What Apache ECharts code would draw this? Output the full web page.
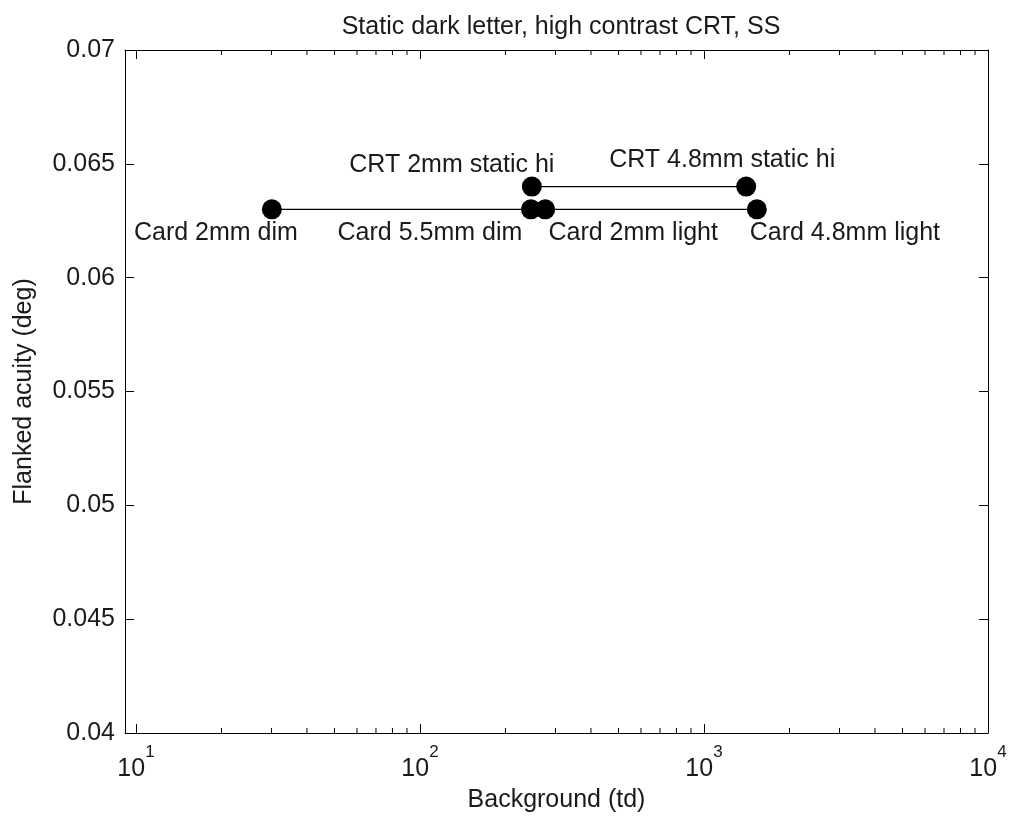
<!DOCTYPE html>
<html>
<head>
<meta charset="utf-8">
<script src="https://cdn.jsdelivr.net/npm/echarts@6/dist/echarts.min.js"></script>
<style>
  html, body { margin: 0; padding: 0; background: #fff; }
  #chart { width: 1012px; height: 820px; }
</style>
</head>
<body>
<div id="chart"></div>
<script>
// Flanked acuity vs. background retinal illuminance
const cardNames = ['Card 2mm dim', 'Card 5.5mm dim', 'Card 2mm light', 'Card 4.8mm light'];
const cardX = [30.1, 245.8, 276, 1535];
const cardY = [0.063, 0.063, 0.063, 0.063];

const crtNames = ['CRT 2mm static hi', 'CRT 4.8mm static hi'];
const crtX = [247.7, 1408];
const crtY = [0.064, 0.064];

const yTicks = { min: 0.04, max: 0.07, step: 0.005 };
const xRange = { min: 9.15, max: 10000 };

// label placement (px, relative to the marker)
const cardLabelOffsets = [[-56, 24], [-101, 24], [88, 24], [88, 24]];
const crtLabelOffsets = [[-80, -21], [-24, -26]];

const FONT = "'Liberation Sans', Arial, sans-serif";
const TXT = '#1a1a1a';

// minor ticks of the log axis: 2..9 within each decade
const minorTicks = [];
for (let e = 0; e < 4; e++) {
  for (let m = 2; m <= 9; m++) {
    const v = m * Math.pow(10, e);
    if (v > xRange.min && v < xRange.max) minorTicks.push(v);
  }
}

function pointsOf(xs, ys, names, offsets) {
  return xs.map((x, i) => ({
    value: [x, ys[i]],
    name: names[i],
    label: {
      show: true,
      position: 'inside',
      offset: offsets[i],
      formatter: names[i],
      color: TXT,
      fontFamily: FONT,
      fontSize: 25,
      align: 'center',
      verticalAlign: 'middle'
    }
  }));
}

function powLabel(v) {
  const e = Math.round(Math.log10(v));
  if (Math.abs(Math.log10(v) - e) > 1e-6) return '';
  return '{b|10}{s|' + e + '}';
}

const axisLineStyle = { show: true, lineStyle: { color: '#000', width: 1 } };

const chart = echarts.init(document.getElementById('chart'), null, { renderer: 'canvas' });
chart.setOption({
  animation: false,
  backgroundColor: '#fff',
  title: {
    text: 'Static dark letter, high contrast CRT, SS',
    left: 556,
    top: 10,
    textAlign: 'center',
    textStyle: { fontFamily: FONT, fontSize: 25, fontWeight: 'normal', color: TXT }
  },
  grid: { left: 125, right: 24, top: 50, bottom: 87, containLabel: false, outerBoundsMode: 'none' },
  xAxis: [
    {
      type: 'log',
      logBase: 10,
      min: xRange.min,
      max: xRange.max,
      position: 'bottom',
      name: 'Background (td)',
      nameLocation: 'middle',
      nameGap: 55,
      nameMoveOverlap: false,
      nameTextStyle: { fontFamily: FONT, fontSize: 25, color: TXT },
      axisLine: axisLineStyle,
      axisTick: { show: true, inside: true, length: 9, lineStyle: { color: '#000' } },
      splitLine: { show: false },
      axisLabel: {
        margin: 24,
        showMinLabel: false,
        formatter: powLabel,
        rich: {
          b: { fontFamily: FONT, fontSize: 25, lineHeight: 25, color: TXT },
          s: { fontFamily: FONT, fontSize: 17, lineHeight: 17, color: TXT, padding: [0, 0, 34, 0] }
        }
      }
    },
    {
      type: 'log',
      logBase: 10,
      min: xRange.min,
      max: xRange.max,
      position: 'top',
      axisLine: axisLineStyle,
      axisTick: { show: true, inside: true, length: 9, lineStyle: { color: '#000' } },
      splitLine: { show: false },
      axisLabel: { show: false }
    }
  ],
  yAxis: [
    {
      type: 'value',
      min: yTicks.min,
      max: yTicks.max,
      interval: yTicks.step,
      position: 'left',
      name: 'Flanked acuity (deg)',
      nameLocation: 'middle',
      nameGap: 88,
      nameMoveOverlap: false,
      nameTextStyle: { fontFamily: FONT, fontSize: 25, color: TXT },
      axisLine: axisLineStyle,
      axisTick: { show: true, inside: true, length: 9, lineStyle: { color: '#000' } },
      splitLine: { show: false },
      axisLabel: { margin: 10, fontFamily: FONT, fontSize: 25, color: TXT }
    },
    {
      type: 'value',
      min: yTicks.min,
      max: yTicks.max,
      interval: yTicks.step,
      position: 'right',
      axisLine: axisLineStyle,
      axisTick: { show: true, inside: true, length: 9, lineStyle: { color: '#000' } },
      splitLine: { show: false },
      axisLabel: { show: false }
    }
  ],
  series: [
    {
      name: 'minor ticks',
      type: 'custom',
      silent: true,
      xAxisIndex: 0,
      yAxisIndex: 0,
      data: minorTicks.map(v => [v]),
      renderItem: function (params, api) {
        const v = api.value(0);
        const b = api.coord([v, yTicks.min]);
        const t = api.coord([v, yTicks.max]);
        const st = { stroke: '#000', lineWidth: 1 };
        return {
          type: 'group',
          children: [
            { type: 'line', shape: { x1: b[0], y1: b[1], x2: b[0], y2: b[1] - 5 }, style: st },
            { type: 'line', shape: { x1: t[0], y1: t[1], x2: t[0], y2: t[1] + 5 }, style: st }
          ]
        };
      },
      z: 1
    },
    {
      name: 'Card',
      type: 'line',
      data: pointsOf(cardX, cardY, cardNames, cardLabelOffsets),
      symbol: 'circle',
      symbolSize: 20,
      itemStyle: { color: '#000' },
      lineStyle: { color: '#000', width: 1.2 },
      z: 3
    },
    {
      name: 'CRT',
      type: 'line',
      data: pointsOf(crtX, crtY, crtNames, crtLabelOffsets),
      symbol: 'circle',
      symbolSize: 20,
      itemStyle: { color: '#000' },
      lineStyle: { color: '#000', width: 1.2 },
      z: 3
    }
  ]
});
</script>
</body>
</html>
